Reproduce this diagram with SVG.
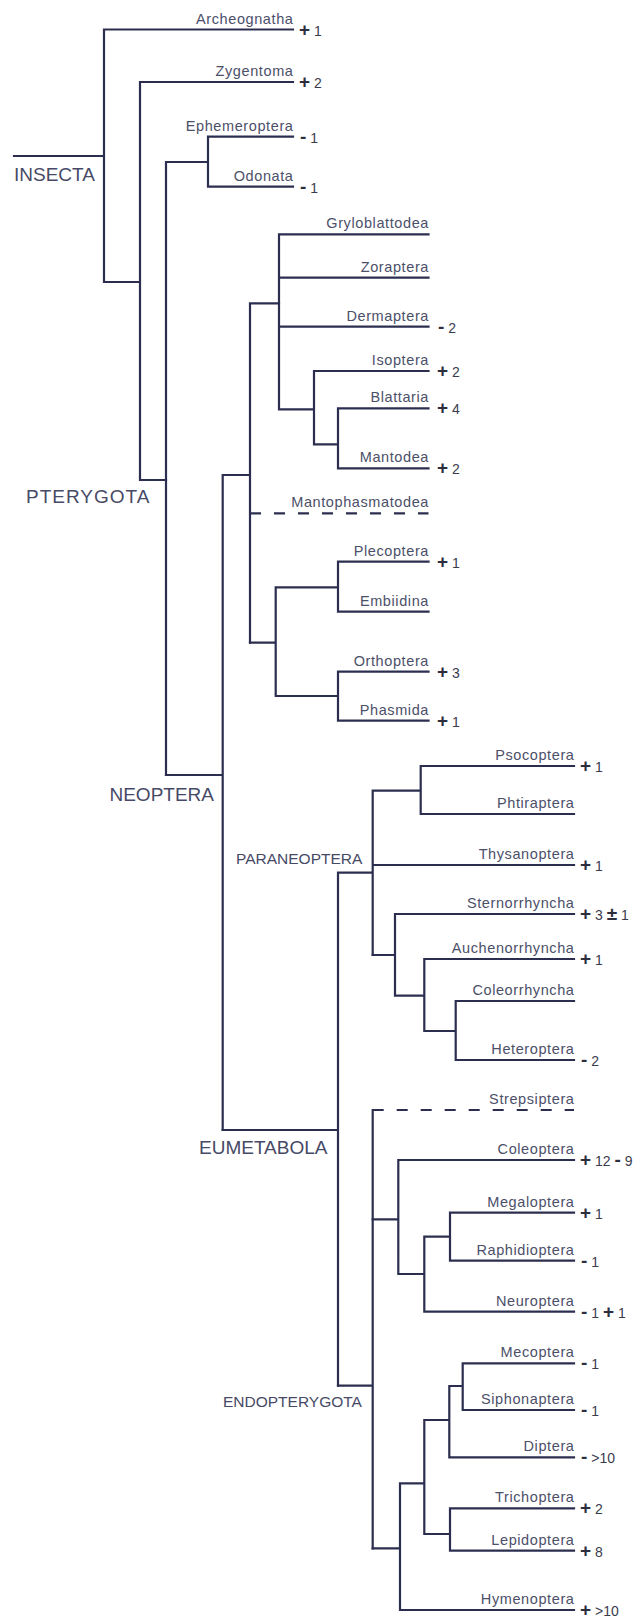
<svg xmlns="http://www.w3.org/2000/svg" width="642" height="1619" viewBox="0 0 642 1619">
<style>
.bg{fill:#ffffff}
.c path{fill:none;stroke:#2c2e4f;stroke-width:2.2;stroke-linecap:square}
.c path.d{stroke-dasharray:11 13;stroke-linecap:butt}
.lb{font-family:"Liberation Sans",Arial,sans-serif;font-size:14.5px;letter-spacing:0.6px;fill:#4c5069;text-anchor:end}
.cl{font-family:"Liberation Sans",Arial,sans-serif;font-size:19px;fill:#474a66}
.cs{font-family:"Liberation Sans",Arial,sans-serif;font-size:15.5px;fill:#474a66}
.mk{font-family:"Liberation Sans",Arial,sans-serif;font-size:14px;fill:#3a3c4e}
.s{font-size:19px;font-weight:bold;fill:#2c2e3e}
</style>
<rect class="bg" x="0" y="0" width="642" height="1619"/>
<g id="connectors" class="c">
<path d="M14 156H104M104 29.5V282M104 29.5H293M104 282H140M140 82H293M140 82V480M140 480H166"/>
<path d="M166 162V775M166 162H208M208 136.7V186.7M208 136.7H293M208 186.7H293"/>
<path d="M166 775H222.7M222.7 475V1130M222.7 475H250M250 303.3V642.7M250 303.3H279"/>
<path d="M279 234.3V409.3M279 234.3H428.5M279 277.7H428.5M279 326.7H428.5M279 409.3H314M314 371V444.3M314 371H428.5M314 444.3H338M338 408.3V468.3M338 408.3H428.5M338 468.3H428.5"/>
<path class="d" d="M250 513.3H428.5"/>
<path d="M250 642.7H275.7M275.7 587.3V696M275.7 587.3H338M338 561.7V611.7M338 561.7H428.5M338 611.7H428.5M275.7 696H338M338 671.7V720.7M338 671.7H428.5M338 720.7H428.5"/>
<path d="M222.7 1130H338M338 872.7V1385.7M338 872.7H372.7M372.7 790.7V955M372.7 790.7H420.7M420.7 766V814M420.7 766H574M420.7 814H574M372.7 865H574"/>
<path d="M372.7 955H395M395 914V995.7M395 914H574M395 995.7H424.3M424.3 959V1031M424.3 959H574M424.3 1031H455.7M455.7 1001V1060M455.7 1001H574M455.7 1060H574"/>
<path d="M338 1385.7H372.7M372.7 1110V1548.3"/>
<path class="d" d="M372.7 1110H574"/>
<path d="M372.7 1219.3H398.3M398.3 1160V1274M398.3 1160H574M398.3 1274H424.3M424.3 1236.7V1311.7M424.3 1311.7H574M424.3 1236.7H450M450 1212.7V1260.7M450 1212.7H574M450 1260.7H574"/>
<path d="M372.7 1548.3H400M400 1483.3V1610M400 1610H574M400 1483.3H424.3M424.3 1420V1534M424.3 1420H449.3M449.3 1386V1457.3M449.3 1457.3H574M449.3 1386H462.7M462.7 1363.3V1410M462.7 1363.3H574M462.7 1410H574M424.3 1534H450M450 1508.3V1550.7M450 1508.3H574M450 1550.7H574"/>
</g>
<g id="clade-insecta"><text class="cl" x="14" y="181">INSECTA</text></g>
<g id="clade-pterygota"><text class="cl" x="26" y="503" letter-spacing="1">PTERYGOTA</text></g>
<g id="clade-neoptera"><text class="cl" x="214" y="801" text-anchor="end">NEOPTERA</text></g>
<g id="clade-paraneoptera"><text class="cs" x="236" y="864">PARANEOPTERA</text></g>
<g id="clade-eumetabola"><text class="cl" x="199" y="1154">EUMETABOLA</text></g>
<g id="clade-endopterygota"><text class="cs" x="223" y="1407">ENDOPTERYGOTA</text></g>

<g id="archeognatha"><text class="lb" x="293.5" y="23.5">Archeognatha</text><text class="mk" x="299" y="35.5"><tspan class="s">+</tspan> 1</text></g>
<g id="zygentoma"><text class="lb" x="293.5" y="76">Zygentoma</text><text class="mk" x="299" y="88"><tspan class="s">+</tspan> 2</text></g>
<g id="ephemeroptera"><text class="lb" x="293.5" y="130.7">Ephemeroptera</text><text class="mk" x="300" y="142.7"><tspan class="s">-</tspan> 1</text></g>
<g id="odonata"><text class="lb" x="293.5" y="180.7">Odonata</text><text class="mk" x="300" y="192.7"><tspan class="s">-</tspan> 1</text></g>

<g id="gryloblattodea"><text class="lb" x="429" y="228.3">Gryloblattodea</text></g>
<g id="zoraptera"><text class="lb" x="429" y="271.7">Zoraptera</text></g>
<g id="dermaptera"><text class="lb" x="429" y="320.7">Dermaptera</text><text class="mk" x="438" y="332.7"><tspan class="s">-</tspan> 2</text></g>
<g id="isoptera"><text class="lb" x="429" y="365">Isoptera</text><text class="mk" x="437" y="377"><tspan class="s">+</tspan> 2</text></g>
<g id="blattaria"><text class="lb" x="429" y="402.3">Blattaria</text><text class="mk" x="437" y="414.3"><tspan class="s">+</tspan> 4</text></g>
<g id="mantodea"><text class="lb" x="429" y="462.3">Mantodea</text><text class="mk" x="437" y="474.3"><tspan class="s">+</tspan> 2</text></g>
<g id="mantophasmatodea"><text class="lb" x="429" y="507.3">Mantophasmatodea</text></g>
<g id="plecoptera"><text class="lb" x="429" y="555.7">Plecoptera</text><text class="mk" x="437" y="567.7"><tspan class="s">+</tspan> 1</text></g>
<g id="embiidina"><text class="lb" x="429" y="605.7">Embiidina</text></g>
<g id="orthoptera"><text class="lb" x="429" y="665.7">Orthoptera</text><text class="mk" x="437" y="677.7"><tspan class="s">+</tspan> 3</text></g>
<g id="phasmida"><text class="lb" x="429" y="714.7">Phasmida</text><text class="mk" x="437" y="726.7"><tspan class="s">+</tspan> 1</text></g>

<g id="psocoptera"><text class="lb" x="574.5" y="760">Psocoptera</text><text class="mk" x="580" y="772"><tspan class="s">+</tspan> 1</text></g>
<g id="phtiraptera"><text class="lb" x="574.5" y="808">Phtiraptera</text></g>
<g id="thysanoptera"><text class="lb" x="574.5" y="859">Thysanoptera</text><text class="mk" x="580" y="871"><tspan class="s">+</tspan> 1</text></g>
<g id="sternorrhyncha"><text class="lb" x="574.5" y="908">Sternorrhyncha</text><text class="mk" x="580" y="920"><tspan class="s">+</tspan> 3 <tspan class="s">±</tspan> 1</text></g>
<g id="auchenorrhyncha"><text class="lb" x="574.5" y="953">Auchenorrhyncha</text><text class="mk" x="580" y="965"><tspan class="s">+</tspan> 1</text></g>
<g id="coleorrhyncha"><text class="lb" x="574.5" y="995">Coleorrhyncha</text></g>
<g id="heteroptera"><text class="lb" x="574.5" y="1054">Heteroptera</text><text class="mk" x="581" y="1066"><tspan class="s">-</tspan> 2</text></g>
<g id="strepsiptera"><text class="lb" x="574.5" y="1104">Strepsiptera</text></g>
<g id="coleoptera"><text class="lb" x="574.5" y="1154">Coleoptera</text><text class="mk" x="580" y="1166"><tspan class="s">+</tspan> 12 <tspan class="s">-</tspan> 9</text></g>
<g id="megaloptera"><text class="lb" x="574.5" y="1206.7">Megaloptera</text><text class="mk" x="580" y="1218.7"><tspan class="s">+</tspan> 1</text></g>
<g id="raphidioptera"><text class="lb" x="574.5" y="1254.7">Raphidioptera</text><text class="mk" x="581" y="1266.7"><tspan class="s">-</tspan> 1</text></g>
<g id="neuroptera"><text class="lb" x="574.5" y="1305.7">Neuroptera</text><text class="mk" x="581" y="1317.7"><tspan class="s">-</tspan> 1 <tspan class="s">+</tspan> 1</text></g>
<g id="mecoptera"><text class="lb" x="574.5" y="1357.3">Mecoptera</text><text class="mk" x="581" y="1369.3"><tspan class="s">-</tspan> 1</text></g>
<g id="siphonaptera"><text class="lb" x="574.5" y="1404">Siphonaptera</text><text class="mk" x="581" y="1416"><tspan class="s">-</tspan> 1</text></g>
<g id="diptera"><text class="lb" x="574.5" y="1451.3">Diptera</text><text class="mk" x="581" y="1463.3"><tspan class="s">-</tspan> &gt;10</text></g>
<g id="trichoptera"><text class="lb" x="574.5" y="1502.3">Trichoptera</text><text class="mk" x="580" y="1514.3"><tspan class="s">+</tspan> 2</text></g>
<g id="lepidoptera"><text class="lb" x="574.5" y="1544.7">Lepidoptera</text><text class="mk" x="580" y="1556.7"><tspan class="s">+</tspan> 8</text></g>
<g id="hymenoptera"><text class="lb" x="574.5" y="1604">Hymenoptera</text><text class="mk" x="580" y="1616"><tspan class="s">+</tspan> &gt;10</text></g>
</svg>
